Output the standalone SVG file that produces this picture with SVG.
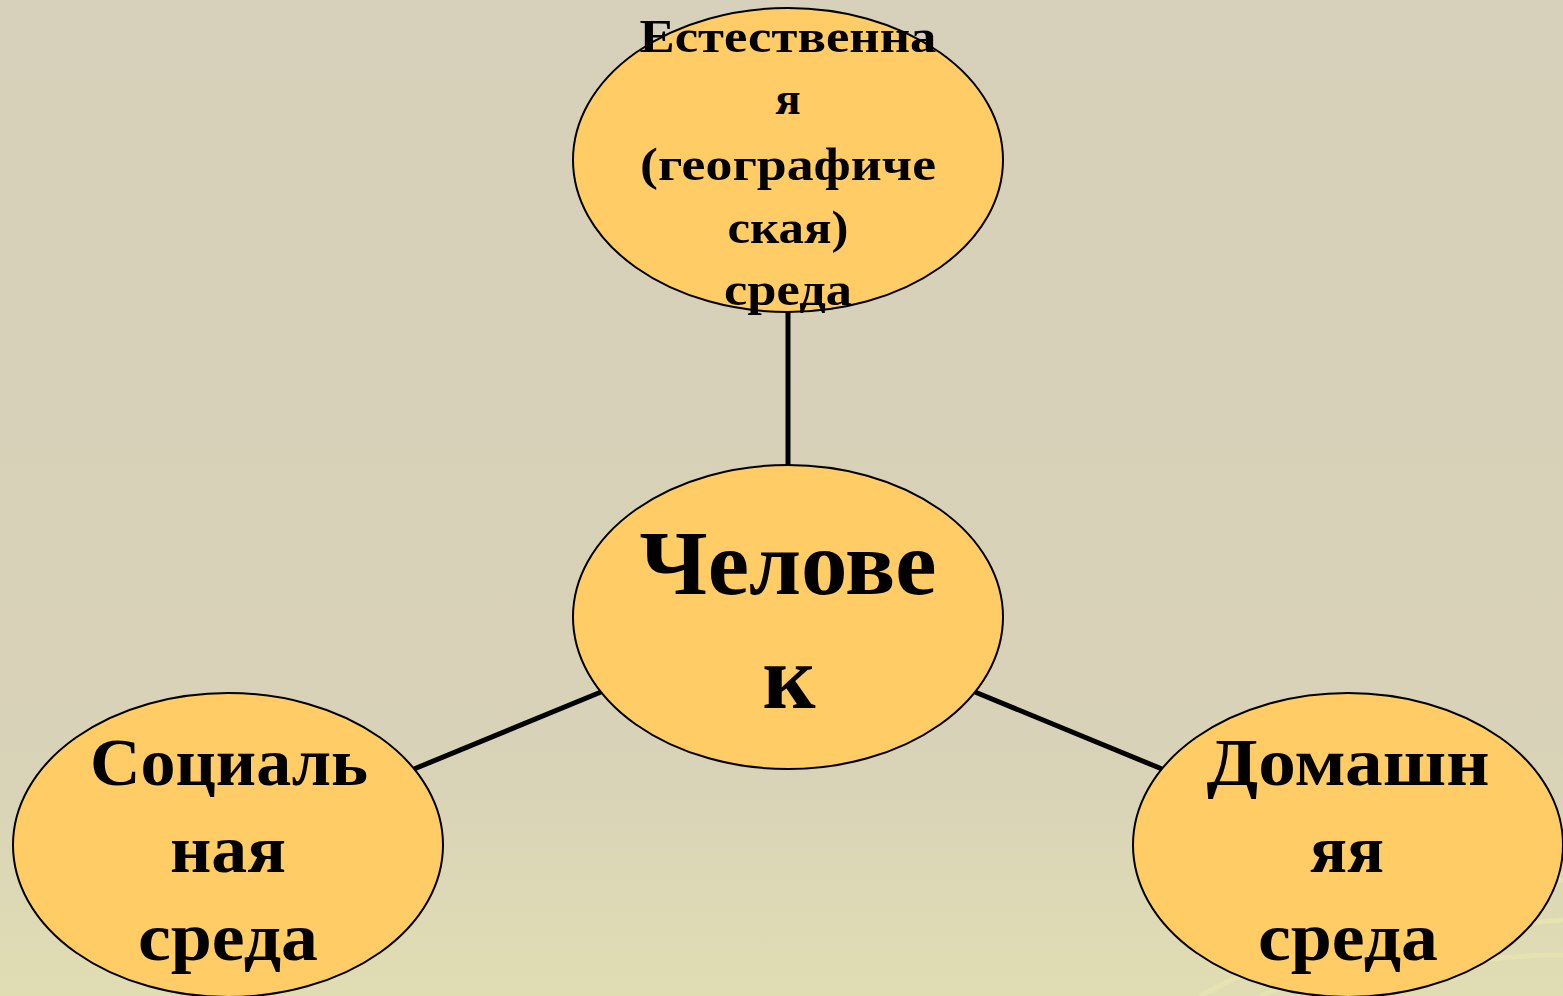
<svg xmlns="http://www.w3.org/2000/svg" width="1563" height="996" viewBox="0 0 1563 996">
<defs>
<linearGradient id="bg" x1="0" y1="0" x2="0" y2="1">
<stop offset="0" stop-color="#D7D0BA"/>
<stop offset="0.75" stop-color="#D8D2B8"/>
<stop offset="1" stop-color="#E0DDB3"/>
</linearGradient>
<style>
.node{fill:#FFCC66;stroke:#000;stroke-width:2}
.conn{stroke:#000;stroke-width:5;fill:none}
.t{font-family:"Liberation Serif","DejaVu Serif",serif;font-weight:bold;fill:#000;text-anchor:middle}
.arc{fill:none;stroke:#E8E4B0;stroke-width:5;opacity:0.8}
</style>
</defs>
<rect width="1563" height="996" fill="url(#bg)"/>
<g id="decor">
<path class="arc" d="M1200 996 Q1380 900 1563 880"/>
<path class="arc" d="M1260 996 Q1420 930 1563 920"/>
<path class="arc" d="M1330 996 Q1450 955 1563 955"/>
</g>
<g id="connectors">
<line class="conn" x1="788" y1="312" x2="788" y2="465"/>
<line class="conn" x1="601" y1="692" x2="414" y2="769"/>
<line class="conn" x1="975" y1="692" x2="1162" y2="769"/>
</g>
<g id="node-natural">
<ellipse class="node" cx="788" cy="160" rx="215" ry="152"/>
<text class="t" font-size="47"><tspan x="788" y="52" textLength="297" lengthAdjust="spacingAndGlyphs">Естественна</tspan><tspan x="788" y="114">я</tspan><tspan x="788" y="180" textLength="296" lengthAdjust="spacingAndGlyphs">(географиче</tspan><tspan x="788" y="243" textLength="121" lengthAdjust="spacingAndGlyphs">ская)</tspan><tspan x="788" y="305" textLength="128" lengthAdjust="spacingAndGlyphs">среда</tspan></text>
</g>
<g id="node-human">
<ellipse class="node" cx="788" cy="617" rx="215" ry="152"/>
<text class="t" font-size="92"><tspan x="788" y="594" textLength="297" lengthAdjust="spacingAndGlyphs">Челове</tspan><tspan x="789" y="708">к</tspan></text>
</g>
<g id="node-social">
<ellipse class="node" cx="228" cy="845" rx="215" ry="152"/>
<text class="t" font-size="68"><tspan x="229" y="785" textLength="278" lengthAdjust="spacingAndGlyphs">Социаль</tspan><tspan x="228" y="872" textLength="116" lengthAdjust="spacingAndGlyphs">ная</tspan><tspan x="228" y="960" textLength="180" lengthAdjust="spacingAndGlyphs">среда</tspan></text>
</g>
<g id="node-home">
<ellipse class="node" cx="1348" cy="845" rx="215" ry="152"/>
<text class="t" font-size="68"><tspan x="1348" y="785" textLength="283" lengthAdjust="spacingAndGlyphs">Домашн</tspan><tspan x="1347" y="872" textLength="74" lengthAdjust="spacingAndGlyphs">яя</tspan><tspan x="1348" y="960" textLength="180" lengthAdjust="spacingAndGlyphs">среда</tspan></text>
</g>
</svg>
